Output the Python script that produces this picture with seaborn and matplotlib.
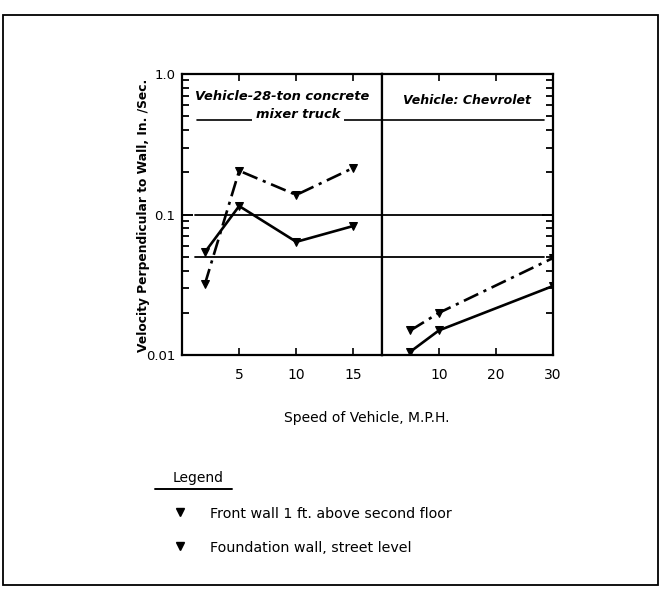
import matplotlib
matplotlib.use("Agg")
import matplotlib.pyplot as plt
import matplotlib.ticker as mticker
from matplotlib.lines import Line2D
from matplotlib.patches import Rectangle
import numpy as np
import pandas as pd
import seaborn as sns

sns.set_theme(style="ticks")
plt.rcParams['font.family'] = ['DejaVu Sans']
plt.rcParams['text.color'] = 'black'
plt.rcParams['axes.labelcolor'] = 'black'
plt.rcParams['xtick.color'] = 'black'
plt.rcParams['ytick.color'] = 'black'

# ---- data ----
truck_speed = [2, 5, 10, 15]
truck_front = [0.032, 0.205, 0.138, 0.215]
truck_found = [0.054, 0.115, 0.064, 0.083]
chev_speed = [5, 10, 30]
chev_front = [0.015, 0.020, 0.049]
chev_found = [0.0106, 0.015, 0.031]
series_names = ["Front wall 1 ft. above second floor", "Foundation wall, street level"]
truck_ticks = [5, 10, 15]
chev_ticks = [10, 20, 30]
y_ticks = [0.01, 0.1, 1.0]
y_ticklabels = ["0.01", "0.1", "1.0"]

def long_df(speed, front, found):
    return pd.DataFrame({
        "speed": list(speed) * 2,
        "velocity": list(front) + list(found),
        "location": [series_names[0]] * len(speed) + [series_names[1]] * len(speed),
    })

df_truck = long_df(truck_speed, truck_front, truck_found)
df_chev = long_df(chev_speed, chev_front, chev_found)

fig = plt.figure(figsize=(6.62, 5.90), dpi=100)
fig.patch.set_facecolor("white")
ax1 = fig.add_axes([0.275, 0.398, 0.302, 0.4766])
ax2 = fig.add_axes([0.577, 0.398, 0.258, 0.4766], sharey=ax1)

dash_styles = {series_names[0]: (6, 2.2, 1.2, 2.2), series_names[1]: ""}
mk = {series_names[0]: "v", series_names[1]: "v"}

for ax, df in ((ax1, df_truck), (ax2, df_chev)):
    ax.set_facecolor("white")
    sns.lineplot(data=df, x="speed", y="velocity", style="location",
                 style_order=series_names, dashes=dash_styles, markers=mk,
                 color="black", linewidth=1.9, markersize=6,
                 markeredgecolor="black", ax=ax, legend=False)
    ax.set_yscale("log")
    ax.set_ylim(0.01, 1.0)
    ax.set_xlabel("")
    ax.set_ylabel("")
    for s in ax.spines.values():
        s.set_linewidth(1.6)
        s.set_color("black")

ax1.set_xlim(0, 17.5)
ax2.set_xlim(0, 30)

# reference lines
ax1.axhline(0.1, xmin=0.065, xmax=1, color="black", lw=1.3)
ax1.axhline(0.05, xmin=0.065, xmax=1, color="black", lw=1.3)
ax1.axhline(0.47, xmin=0.075, xmax=1, color="black", lw=1.2)
ax2.axhline(0.1, xmin=0, xmax=0.95, color="black", lw=1.3)
ax2.axhline(0.05, xmin=0, xmax=0.95, color="black", lw=1.3)
ax2.axhline(0.47, xmin=0, xmax=0.95, color="black", lw=1.2)

# ticks
ax1.set_xticks(truck_ticks)
ax2.set_xticks(chev_ticks)
ax1.set_yticks(y_ticks)
ax1.set_yticklabels(y_ticklabels)
ax1.yaxis.set_minor_locator(mticker.LogLocator(base=10, subs=np.arange(2, 10)))
ax1.yaxis.set_minor_formatter(mticker.NullFormatter())
ax1.tick_params(axis="y", which="major", direction="in", length=8, width=1.4,
                left=True, right=False, labelsize=9.5, pad=5)
ax1.tick_params(axis="y", which="minor", direction="in", length=5, width=1.3,
                left=True, right=False)
ax2.tick_params(axis="y", which="major", direction="in", length=8, width=1.4,
                left=False, right=True, labelleft=False)
ax2.tick_params(axis="y", which="minor", direction="in", length=5, width=1.3,
                left=False, right=True)
for ax in (ax1, ax2):
    ax.tick_params(axis="x", which="major", direction="in", length=5, width=1.2,
                   top=True, bottom=True, labelsize=10, pad=9)
    ax.tick_params(axis="x", which="minor", bottom=False, top=False)

# panel captions
ax1.text(0.5, 0.92, "Vehicle-28-ton concrete", transform=ax1.transAxes,
         ha="center", va="center", fontsize=9.4, style="italic", weight="bold")
ax1.text(0.58, 0.855, "mixer truck", transform=ax1.transAxes,
         ha="center", va="center", fontsize=9.4, style="italic", weight="bold",
         bbox=dict(facecolor="white", edgecolor="none", pad=2.5))
ax2.text(0.5, 0.905, "Vehicle: Chevrolet", transform=ax2.transAxes,
         ha="center", va="center", fontsize=9.0, style="italic", weight="bold")

fig.text(144 / 662, 1 - 215 / 590, "Velocity Perpendicular to Wall, In. /Sec.",
         rotation=90, ha="center", va="center", fontsize=8.8, weight="bold")
fig.text(367 / 662, 1 - 418 / 590, "Speed of Vehicle, M.P.H.",
         ha="center", va="center", fontsize=10)

# legend block
fig.text(198 / 662, 1 - 478 / 590, "Legend", ha="center", va="center", fontsize=10)
fig.add_artist(Line2D([155 / 662, 232 / 662], [1 - 489 / 590, 1 - 489 / 590],
                      color="black", lw=1.4))
for yy, name in ((514, series_names[0]), (548, series_names[1])):
    fig.add_artist(Line2D([180 / 662], [1 - (yy - 2) / 590], marker="v",
                          markersize=5.5, color="black", linestyle="none"))
    fig.text(210 / 662, 1 - yy / 590, name, ha="left", va="center", fontsize=10.3)

# page border of the scan
fig.add_artist(Rectangle((3 / 662, 1 - 585 / 590), 655 / 662, 570 / 590,
                         transform=fig.transFigure, fill=False,
                         edgecolor="black", lw=1.3))

fig.savefig("out.png", dpi=100, facecolor="white")
